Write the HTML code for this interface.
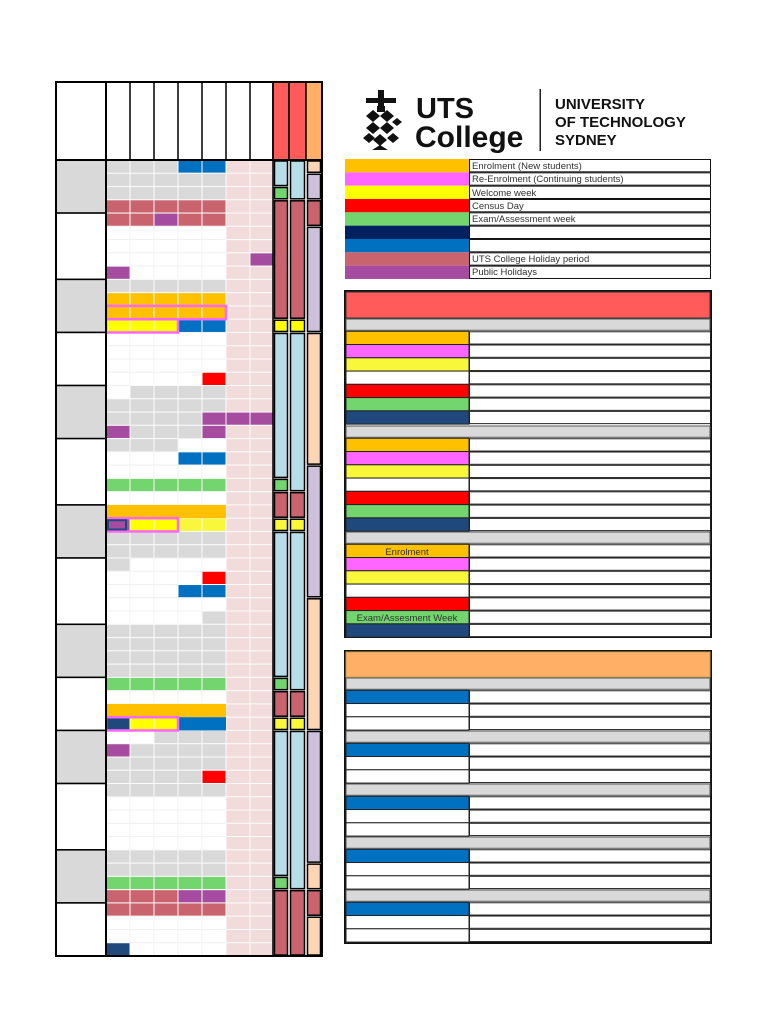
<!DOCTYPE html>
<html><head><meta charset="utf-8"><style>
html,body{margin:0;padding:0;background:#fff;width:768px;height:1024px;overflow:hidden}
svg{display:block}
text{font-family:"Liberation Sans",sans-serif}
</style></head><body>
<svg id="s" width="768" height="1024" viewBox="0 0 768 1024" xmlns="http://www.w3.org/2000/svg">
<g id="grid"></g>
<g id="right"></g>
<g fill="#111">
<rect x="378" y="90" width="6" height="18"/><rect x="366" y="98" width="30" height="5"/>
<rect x="377" y="106" width="8" height="6"/>
<path d="M366 116 l7 -6 7 6 -7 6z M380 116 l7 -6 7 6 -7 6z M366 128 l7 -6 7 6 -7 6z M380 128 l7 -6 7 6 -7 6z M373 140 l7 -6 7 6 -7 6z M387 138 l6 -5 6 5 -6 5z M363 138 l6 -5 6 5 -6 5z M392 122 l5 -4 5 4 -5 4z M372 150 l8 -5 8 5z"/>
</g>
<text x="416" y="118" font-size="29" font-weight="bold" fill="#111">UTS</text>
<text x="415" y="147" font-size="30" fill="#111" style="font-weight:600">College</text>
<rect x="539.5" y="89" width="1.5" height="62" fill="#222"/>
<text x="555" y="109" font-size="15" font-weight="bold" fill="#111">UNIVERSITY</text>
<text x="555" y="127" font-size="15" font-weight="bold" fill="#111">OF TECHNOLOGY</text>
<text x="555" y="145" font-size="15" font-weight="bold" fill="#111">SYDNEY</text>
<g font-size="9.5" fill="#333">
<text x="472" y="169">Enrolment (New students)</text>
<text x="472" y="182">Re-Enrolment (Continuing students)</text>
<text x="472" y="196">Welcome week</text>
<text x="472" y="209">Census Day</text>
<text x="472" y="222">Exam/Assessment week</text>
<text x="472" y="262">UTS College Holiday period</text>
<text x="472" y="275">Public Holidays</text>
<text x="407" y="555" text-anchor="middle">Enrolment</text>
<text x="407" y="621" text-anchor="middle">Exam/Assesment Week</text>
</g>
</svg>
<script>
var C={G:'#d9d9d9',H:'#c9646f',P:'#a64ca0',W:'#ffffff',B:'#0070c0',O:'#ffc000',Y:'#ffff00',y:'#f9f73a',R:'#ff0000',L:'#72d56d',N:'#1f497d',k:'#f2dcdb',Q:'#b7dde8',V:'#ccc0da',E:'#fcd5b4',M:'#ff66ff',A:'#ff5b5b',F:'#ffb066'};
var rows=['GGGBB','GGGGG','GGGGG','HHHHH','HHPHH','WWWWW','WWWWW','WWWWW','PWWWW','GGGGG','OOOOO','OOOOO','YYYBB','WWWWW','WWWWW','WWWWW','WWWWR','WGGGG','GGGGG','GGGGP','PGGGP','GGGWW','WWWBB','WWWWW','LLLLL','WWWWW','OOOOO','PYYyy','GGGGG','GGGGG','GWWWW','WWWWR','WWWBB','WWWWW','WWWWG','GGGGG','GGGGG','GGGGG','GGGGG','LLLLL','WWWWW','OOOOO','NYYBB','WWGGG','PGGGG','GGGGG','GGGGR','GGGGG','WWWWW','WWWWW','WWWWW','WWWWW','GGGGG','GGGGG','LLLLL','HHHPP','HHHHH','WWWWW','WWWWW','NWWWW'];
var X=[106,130,154,178,202,226,250,273],T=160,RH=796/60,o='';
function R(x,y,w,h,f,st,sw){return '<rect x="'+x+'" y="'+y+'" width="'+w+'" height="'+h+'" fill="'+f+'"'+(st?' stroke="'+st+'" stroke-width="'+(sw||1)+'"':'')+'/>';}
for(var i=0;i<60;i++){var y=T+i*RH,r=rows[i]+'kk';if(i==7)r=rows[i]+'kP';if(i==19)r=rows[i]+'PP';
for(var j=0;j<7;j++){var c=r[j];o+=R(X[j],y,X[j+1]-X[j],RH,C[c],c=='W'?'#f0f0f0':'#fafafa',1);}}
[26,41].forEach(function(i){o+=R(106,T+i*RH,120,RH,C.O);});
o+=R(178,T+42*RH,48,RH,C.B);
o+=R(106,T+11*RH,120,RH,'none',C.M,2.5);
o+=R(106,T+12*RH,72,RH,'none',C.M,2.5);
o+=R(106,T+27*RH,72,RH,'none',C.M,2.5);
o+=R(108,T+27*RH+2,18,RH-4,'none',C.N,2);
o+=R(106,T+42*RH,72,RH,'none',C.M,2.5);
var mb=[0,4,9,13,17,21,26,30,35,39,43,47,52,56,60];
for(var m=0;m<14;m++){o+=R(56,T+mb[m]*RH,50,(mb[m+1]-mb[m])*RH,m%2==0?C.G:'#fff','#000',1.5);}
o+=R(56,82,217,78,'#fff');
for(var j=0;j<8;j++)o+='<line x1="'+X[j]+'" y1="82" x2="'+X[j]+'" y2="160" stroke="#000" stroke-width="1.5"/>';
o+=R(273,82,16,78,C.A,'#000',1.5)+R(289,82,17,78,C.A,'#000',1.5)+R(306,82,16,78,C.F,'#000',1.5);
var segs=[[273,16,[[0,2,'Q'],[2,3,'L'],[3,12,'H'],[12,13,'Y'],[13,24,'Q'],[24,25,'L'],[25,27,'H'],[27,28,'y'],[28,39,'Q'],[39,40,'L'],[40,42,'H'],[42,43,'y'],[43,54,'Q'],[54,55,'L'],[55,60,'H']]],
[289,17,[[0,3,'Q'],[3,12,'H'],[12,13,'Y'],[13,25,'Q'],[25,27,'H'],[27,28,'y'],[28,40,'Q'],[40,42,'H'],[42,43,'y'],[43,55,'Q'],[55,60,'H']]],
[306,16,[[0,1,'E'],[1,3,'V'],[3,5,'H'],[5,13,'V'],[13,23,'E'],[23,33,'V'],[33,43,'E'],[43,53,'V'],[53,55,'E'],[55,57,'H'],[57,60,'E']]]];
segs.forEach(function(s){s[2].forEach(function(g){o+=R(s[0]+1.5,T+g[0]*RH+1,s[1]-3,(g[1]-g[0])*RH-2,C[g[2]],'#000',1.5);});});
o+=R(56,82,266,874,'none','#000',2);
o+='<line x1="56" y1="160" x2="322" y2="160" stroke="#000" stroke-width="2"/><line x1="106" y1="82" x2="106" y2="956" stroke="#000" stroke-width="2"/><line x1="273" y1="82" x2="273" y2="956" stroke="#000" stroke-width="1.5"/>';
document.getElementById('grid').innerHTML=o;
var p='',lh=13.33,lc=['O','M','Y','R','L','#002060','B','H','P'];
for(var i=0;i<9;i++){var y=159+i*lh;p+=R(345,y,124,lh,C[lc[i]]||lc[i])+R(469.5,y+.5,241,lh-1,'#fff','#111',1);}
p+=R(345,291,366,346,'#fff','#111',2)+R(346,292,364,26,C.A,'#333',1);
var cols=['O','M','y','W','R','L','N'];
[318,425,531].forEach(function(y0){p+=R(346,y0+1,364,RH-2,C.G,'#555',1);for(var i=0;i<7;i++){var y=y0+RH+i*RH;p+=R(346,y,123,RH,C[cols[i]],'#222',1)+R(469.5,y+.5,241,RH-1,'#fff','#222',1);}});
p+=R(345,651,366,292,'#fff','#111',2)+R(346,652,364,25,C.F,'#caa050',1);
[677,730,783,836,889].forEach(function(y0){p+=R(346,y0+1,364,RH-2,C.G,'#555',1);for(var i=0;i<3;i++){var y=y0+RH+i*RH;p+=R(346,y,123,RH,i==0?C.B:'#fff','#222',1)+R(469.5,y+.5,241,RH-1,'#fff','#222',1);}});
document.getElementById('right').innerHTML=p;
</script>
</body></html>
